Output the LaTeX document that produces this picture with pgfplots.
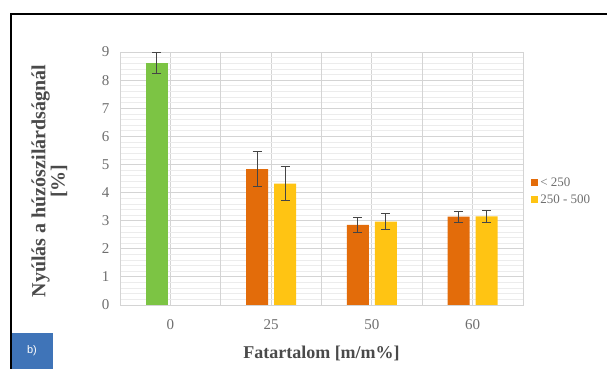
\documentclass[border=0pt]{standalone}
\usepackage{fontspec}
\setmainfont{Liberation Serif}
\newfontfamily\sans{Liberation Sans}
\usepackage{pgfplots}
\pgfplotsset{compat=1.18}
\usepackage{pgfplotstable}
\definecolor{barorange}{HTML}{E36C0A}
\definecolor{baryellow}{HTML}{FFC413}
\definecolor{bargreen}{HTML}{7CC444}
\definecolor{gridmaj}{HTML}{D4D4D4}
\definecolor{gridmin}{HTML}{ECECEC}
\definecolor{ticktext}{HTML}{6E6E6E}
\definecolor{labeltext}{HTML}{4A4A4A}
\definecolor{errc}{HTML}{454545}
\definecolor{boxblue}{HTML}{3F74B8}
% x positions offset by -/+0.139 (about 14pt) from the category centre
\pgfplotstableread{
x y err
-0.135 8.60 0.37
}\green
\pgfplotstableread{
x y err
0.861 4.83 0.63
1.861 2.85 0.28
2.861 3.14 0.20
}\orange
\pgfplotstableread{
x y err
1.139 4.32 0.60
2.139 2.97 0.30
3.139 3.15 0.20
}\yellow
\begin{document}
\begin{tikzpicture}[x=1pt,y=1pt]
\path[use as bounding box] (0,0) rectangle (607,369);
\begin{axis}[
  at={(120pt,64pt)}, anchor=south west,
  scale only axis, width=403pt, height=253pt,
  xmin=-0.5, xmax=3.5, ymin=0, ymax=9,
  xtick={0,1,2,3}, xticklabels={0,25,50,60},
  ytick={0,1,...,9},
  minor y tick num=4,
  extra x ticks={0.5,1.5,2.5},
  extra x tick labels={},
  extra x tick style={xmajorgrids=true, major grid style={color=gridmaj, line width=0.8pt}},
  xmajorgrids=true, ymajorgrids=true, yminorgrids=true,
  major grid style={color=gridmaj, line width=0.8pt},
  minor grid style={color=gridmin, line width=0.6pt},
  major tick length=0pt, minor tick length=0pt,
  axis line style={draw=gridmaj, line width=0.8pt},
  /pgf/number format/assume math mode=true,
  tick label style={font=\fontsize{15}{17}\selectfont, text=ticktext},
  xticklabel style={yshift=-11pt},
  yticklabel style={xshift=-7pt},
  xlabel={Fatartalom [m/m\%]},
  xlabel style={font=\bfseries\fontsize{18}{20}\selectfont, text=labeltext, at={(axis description cs:0.5,-0.19)}, anchor=center},
  ylabel={Nyúlás a húzószilárdságnál\\{[\%]}},
  ylabel style={align=center, font=\bfseries\fontsize{20}{18}\selectfont, text=labeltext, at={(axis description cs:-0.175,0.49)}, anchor=center},
  legend style={draw=none, fill=none, at={(axis description cs:1.02,0.45)}, anchor=west,
    font=\fontsize{13}{15}\selectfont, text=ticktext, row sep=3pt,
    legend cell align=left, inner sep=0pt},
  legend image code/.code={\fill[#1] (0pt,-3.5pt) rectangle (7pt,3.5pt);},
]
\addplot[ybar, bar width=22pt, bar shift=0pt, fill=bargreen, draw=none, forget plot,
  error bars/.cd, y dir=both, y explicit,
  error bar style={errc, line width=0.9pt},
  error mark options={errc, rotate=90, mark size=4.5pt, line width=0.9pt}]
  table[x=x, y=y, y error=err] {\green};
\addplot[ybar, bar width=22pt, bar shift=0pt, fill=barorange, draw=none,
  error bars/.cd, y dir=both, y explicit,
  error bar style={errc, line width=0.9pt},
  error mark options={errc, rotate=90, mark size=4.5pt, line width=0.9pt}]
  table[x=x, y=y, y error=err] {\orange};
\addlegendentry{< 250}
\addplot[ybar, bar width=22pt, bar shift=0pt, fill=baryellow, draw=none,
  error bars/.cd, y dir=both, y explicit,
  error bar style={errc, line width=0.9pt},
  error mark options={errc, rotate=90, mark size=4.5pt, line width=0.9pt}]
  table[x=x, y=y, y error=err] {\yellow};
\addlegendentry{250 - 500}
\end{axis}
\draw[black, line width=1.8pt] (11,-10) -- (11,355) -- (620,355);
\fill[boxblue] (12,0) rectangle (53,36);
\node[text=white, font=\sans\fontsize{11}{12}\selectfont] at (32,18) {b)};
\end{tikzpicture}
\end{document}
